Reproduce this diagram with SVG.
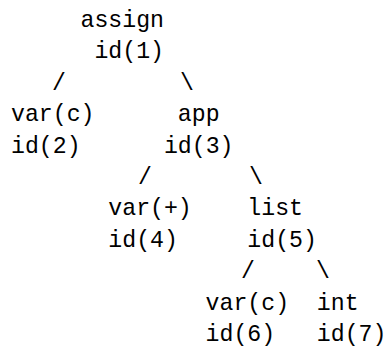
<svg xmlns="http://www.w3.org/2000/svg" width="387" height="349" viewBox="0 0 387 349">
<style>
text{font-family:"Liberation Mono","DejaVu Sans Mono",monospace;font-size:23.2px;fill:#000}
</style>
<rect width="387" height="349" fill="#fff"/>
<g id="connectors">
<text x="59" y="89.8" text-anchor="middle">/</text>
<text x="187" y="89.8" text-anchor="middle">\</text>
<text x="145" y="184" text-anchor="middle">/</text>
<text x="256" y="184" text-anchor="middle">\</text>
<text x="248" y="278.2" text-anchor="middle">/</text>
<text x="323" y="278.2" text-anchor="middle">\</text>
</g>
<g id="n1"><text x="80.5" y="27">assign</text><text x="94.4" y="58.4">id(1)</text></g>
<g id="n2"><text x="11" y="121.2">var(c)</text><text x="11" y="152.6">id(2)</text></g>
<g id="n3"><text x="177.8" y="121.2">app</text><text x="163.9" y="152.6">id(3)</text></g>
<g id="n4"><text x="108.3" y="215.4">var(+)</text><text x="108.3" y="246.8">id(4)</text></g>
<g id="n5"><text x="247.3" y="215.4">list</text><text x="247.3" y="246.8">id(5)</text></g>
<g id="n6"><text x="205.6" y="309.6">var(c)</text><text x="205.6" y="341">id(6)</text></g>
<g id="n7"><text x="316.8" y="309.6">int</text><text x="316.8" y="341">id(7)</text></g>
</svg>
